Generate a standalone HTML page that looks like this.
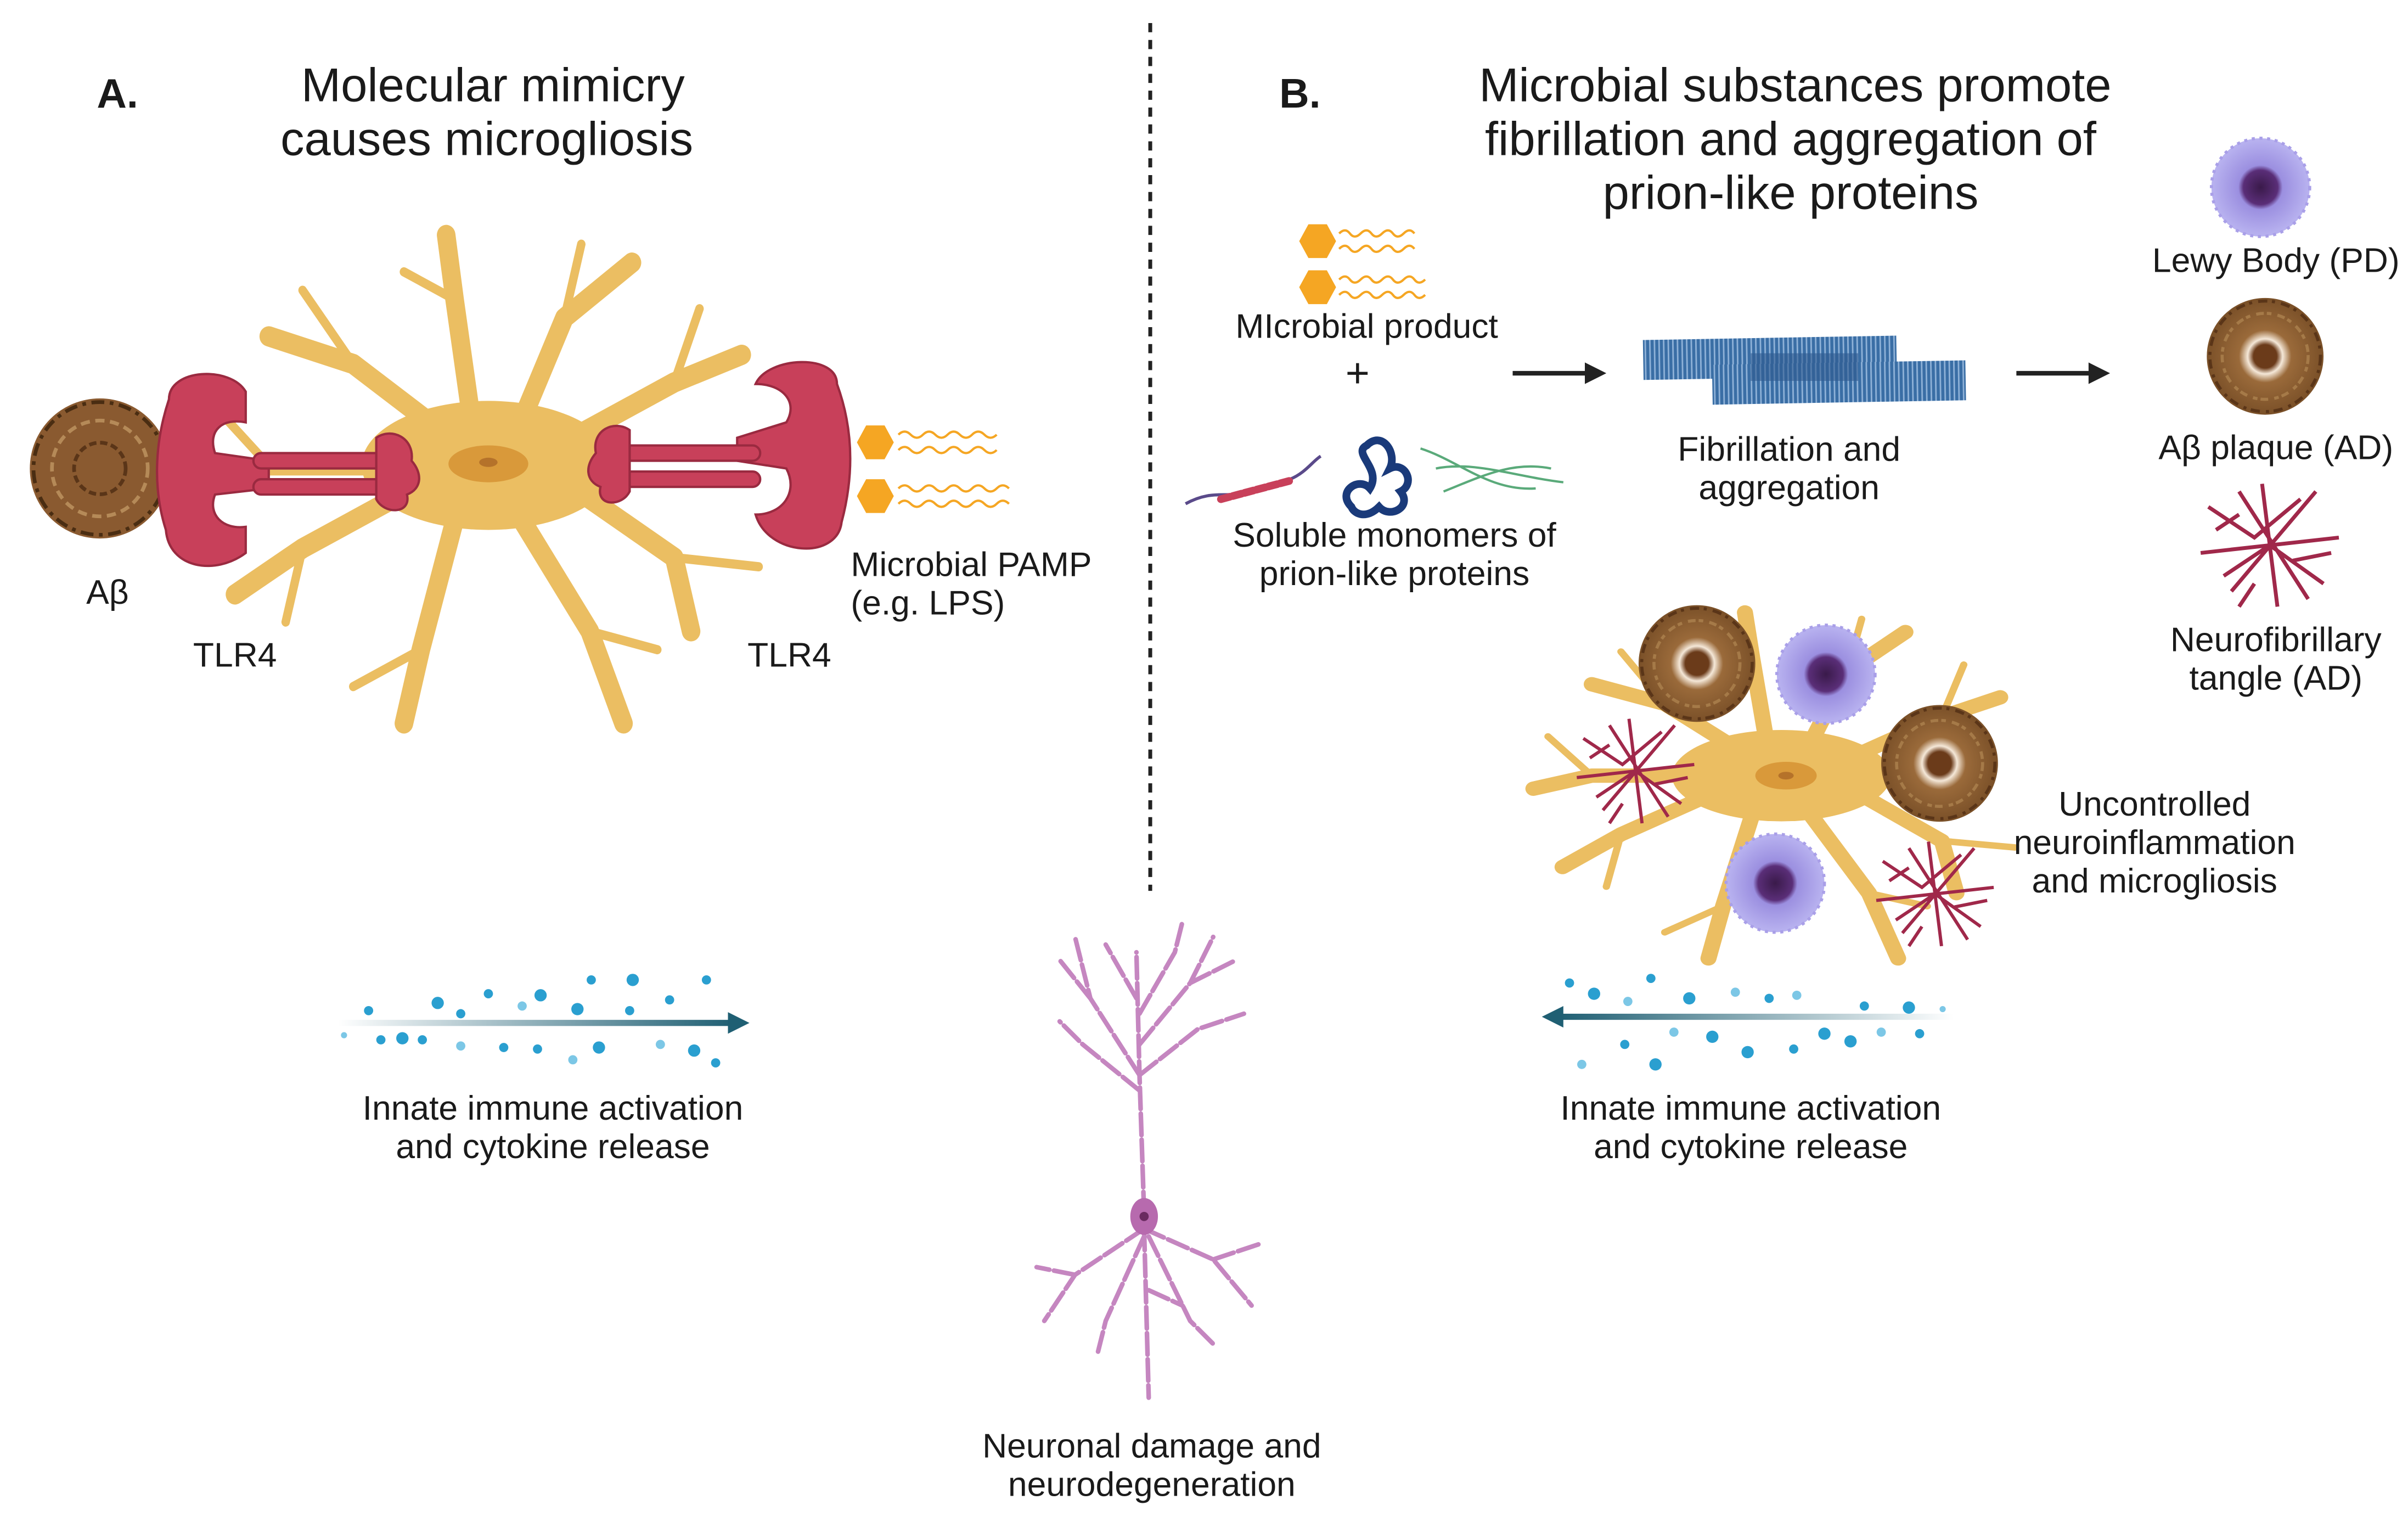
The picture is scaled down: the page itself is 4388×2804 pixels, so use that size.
<!DOCTYPE html>
<html><head><meta charset="utf-8"><style>
html,body{margin:0;padding:0;background:#fff;}
svg{display:block;}
text{font-family:"Liberation Sans",sans-serif;fill:#1a1a1a;}
.l{font-size:22.3px;text-anchor:middle;}
.t{font-size:31px;text-anchor:middle;}
</style></head><body>
<svg width="4388" height="2804" viewBox="0 0 1568 1002" xmlns="http://www.w3.org/2000/svg">
<defs>
<radialGradient id="lb"><stop offset="0" stop-color="#3a1a4a"/><stop offset="0.35" stop-color="#5a2e78"/><stop offset="0.45" stop-color="#9b8fe0"/><stop offset="1" stop-color="#b9b3f0"/></radialGradient>
<radialGradient id="pl"><stop offset="0" stop-color="#6b3b1a"/><stop offset="0.2" stop-color="#6b3b1a"/><stop offset="0.3" stop-color="#f5e8d8"/><stop offset="0.45" stop-color="#9a6a3a"/><stop offset="1" stop-color="#7a5028"/></radialGradient>
<linearGradient id="ar" gradientUnits="userSpaceOnUse" x1="220" y1="0" x2="478" y2="0"><stop offset="0" stop-color="#1f5f73" stop-opacity="0"/><stop offset="1" stop-color="#1f5f73"/></linearGradient>
<linearGradient id="ar2" gradientUnits="userSpaceOnUse" x1="1272" y1="0" x2="1015" y2="0"><stop offset="0" stop-color="#1f5f73" stop-opacity="0"/><stop offset="1" stop-color="#1f5f73"/></linearGradient>
<pattern id="hatch" width="3" height="10" patternUnits="userSpaceOnUse"><rect width="3" height="10" fill="#3a6ea5"/><rect width="1" height="10" fill="#8fb2d8"/></pattern>
<g id="hex"><polygon points="-12,0 -6,-11 6,-11 12,0 6,11 -6,11" fill="#f5a623"/></g>
<g id="lewy"><circle r="32" fill="url(#lb)"/><circle r="32" fill="none" stroke="#a99fe8" stroke-width="2" stroke-dasharray="2 3"/></g>
<g id="plq"><circle r="38" fill="url(#pl)"/><circle r="36" fill="none" stroke="#5a3518" stroke-width="2" stroke-dasharray="6 3 2 4"/><circle r="28" fill="none" stroke="#a57a48" stroke-width="2" stroke-dasharray="5 2 3 4"/></g>
<g id="tng" stroke="#a0284a" stroke-width="2.5" fill="none"><path d="M-40,-25 L-10,-5 L20,-30 M-30,20 L0,0 L35,25 M-5,-40 L5,40 M-45,5 L45,-5 M-20,-35 L25,35 M30,-35 L-25,30 M-35,-10 L-20,-20 M15,10 L40,5 M-10,25 L-20,40"/></g>
<g id="mic" stroke="#ebbe62" fill="none" stroke-linecap="round" stroke-linejoin="round">
<ellipse rx="75" ry="35" fill="#ebbe62" stroke="none"/>
<g stroke-width="11">
<path d="M-30,-20 L-80,-55 L-130,-70"/><path d="M-10,-25 L-20,-90 L-25,-125"/><path d="M20,-25 L45,-80 L85,-110"/><path d="M50,-15 L110,-45 L150,-60"/>
<path d="M55,15 L110,50 L120,90"/><path d="M20,30 L60,90 L80,140"/><path d="M-20,30 L-40,100 L-50,140"/><path d="M-50,15 L-110,45 L-150,70"/><path d="M-60,0 L-130,0 L-170,10"/>
</g>
<g stroke-width="5">
<path d="M-80,-55 L-110,-95"/><path d="M-20,-90 L-50,-105"/><path d="M45,-80 L55,-120"/><path d="M110,-45 L125,-85"/><path d="M110,50 L160,55"/><path d="M60,90 L100,100"/><path d="M-40,100 L-80,120"/><path d="M-110,45 L-120,85"/><path d="M-130,0 L-160,-30"/>
</g>
</g>
</defs>

<line x1="749" y1="15" x2="749" y2="580" stroke="#222" stroke-width="2.5" stroke-dasharray="6 5"/>

<text x="63" y="70" style="font-size:27px;font-weight:bold">A.</text>
<text class="t" x="321" y="66">Molecular mimicry</text>
<text class="t" x="317" y="101">causes microgliosis</text>
<text x="833" y="70" style="font-size:27px;font-weight:bold">B.</text>
<text class="t" x="1169" y="66">Microbial substances promote</text>
<text class="t" x="1166" y="101">fibrillation and aggregation of</text>
<text class="t" x="1166" y="136">prion-like proteins</text>

<g transform="translate(318,303) scale(1.1,1.2)"><use href="#mic"/></g>
<ellipse cx="318" cy="302" rx="26" ry="12" fill="#d9993a"/>
<ellipse cx="318" cy="301" rx="6" ry="3" fill="#b5722a"/>
<g transform="translate(65,305) scale(1.2)"><circle r="38" fill="#8a5a30"/><circle r="36" fill="none" stroke="#4a2d12" stroke-width="2" stroke-dasharray="7 3 2 3"/><circle r="26" fill="none" stroke="#b58a58" stroke-width="2" stroke-dasharray="5 3"/><circle r="14" fill="none" stroke="#5a3518" stroke-width="2" stroke-dasharray="4 2"/></g>
<g fill="#c8405a" stroke="#9a2a40" stroke-width="1.5">
<path d="M110,260 C110,240 150,238 160,255 L160,275 C145,272 135,280 140,295 L175,300 L175,318 L140,322 C135,335 145,345 160,343 L160,360 C140,375 110,370 108,345 C100,320 100,290 110,260 Z"/>
<rect x="165" y="295" width="90" height="10" rx="5"/>
<rect x="165" y="312" width="90" height="10" rx="5"/>
<path d="M245,285 C255,278 270,285 268,300 C275,308 275,318 265,322 C268,335 250,335 245,325 Z"/>
</g>
<g fill="#c8405a" stroke="#9a2a40" stroke-width="1.5">
<path d="M545,250 C545,230 500,232 492,250 C510,250 520,262 512,275 L480,285 L480,300 L512,305 C520,320 510,335 492,335 C500,362 545,365 548,340 C556,310 556,280 545,250 Z"/>
<rect x="405" y="290" width="90" height="10" rx="5"/>
<rect x="405" y="307" width="90" height="10" rx="5"/>
<path d="M410,280 C400,273 385,280 388,295 C381,303 381,313 391,317 C388,330 405,330 410,320 Z"/>
</g>
<use href="#hex" x="570" y="288"/><use href="#hex" x="570" y="323"/>
<g stroke="#f5a623" stroke-width="1.5" fill="none">
<path d="M585,283 q4,-4 8,0 t8,0 t8,0 t8,0 t8,0 t8,0 t8,0 t8,0"/>
<path d="M585,293 q4,-4 8,0 t8,0 t8,0 t8,0 t8,0 t8,0 t8,0 t8,0"/>
<path d="M585,318 q4,-4 8,0 t8,0 t8,0 t8,0 t8,0 t8,0 t8,0 t8,0 t8,0"/>
<path d="M585,328 q4,-4 8,0 t8,0 t8,0 t8,0 t8,0 t8,0 t8,0 t8,0 t8,0"/>
</g>
<text class="l" x="70" y="393">Aβ</text>
<text class="l" x="153" y="434">TLR4</text>
<text class="l" x="514" y="434">TLR4</text>
<text x="554" y="375" style="font-size:22.3px">Microbial PAMP</text>
<text x="554" y="400" style="font-size:22.3px">(e.g. LPS)</text>

<rect x="220" y="664" width="258" height="4" fill="url(#ar)"/>
<polygon points="474,659 488,666 474,673" fill="#1f5f73"/>
<g fill="#2a9fd0">
<circle cx="240" cy="658" r="3"/><circle cx="262" cy="676" r="4"/><circle cx="285" cy="653" r="4"/><circle cx="300" cy="660" r="3"/><circle cx="318" cy="647" r="3"/><circle cx="328" cy="682" r="3"/><circle cx="352" cy="648" r="4"/><circle cx="350" cy="683" r="3"/><circle cx="376" cy="657" r="4"/><circle cx="390" cy="682" r="4"/><circle cx="412" cy="638" r="4"/><circle cx="410" cy="658" r="3"/><circle cx="436" cy="651" r="3"/><circle cx="452" cy="684" r="4"/><circle cx="460" cy="638" r="3"/><circle cx="466" cy="692" r="3"/><circle cx="248" cy="677" r="3"/><circle cx="385" cy="638" r="3"/><circle cx="275" cy="677" r="3"/><circle cx="430" cy="680" r="3" fill="#7cc7e6"/><circle cx="224" cy="674" r="2" fill="#7cc7e6"/><circle cx="300" cy="681" r="3" fill="#7cc7e6"/><circle cx="373" cy="690" r="3" fill="#7cc7e6"/><circle cx="340" cy="655" r="3" fill="#7cc7e6"/>
</g>
<text class="l" x="360" y="729">Innate immune activation</text>
<text class="l" x="360" y="754">and cytokine release</text>

<g stroke="#c586c0" stroke-width="3" fill="none" stroke-linecap="round" stroke-dasharray="14 3">
<path d="M745,790 L742,700 L740,620"/>
<path d="M742,700 L710,650 L700,610 M710,650 L690,625 M742,680 L775,640 L790,610 M775,640 L805,625 M740,650 L720,615 M742,660 L765,620 L770,600 M742,700 L780,670 L810,660 M742,710 L705,680 L690,665"/>
<path d="M745,800 L748,910 M745,800 L700,830 L680,860 M700,830 L675,825 M745,800 L790,820 L815,850 M790,820 L820,810 M745,805 L720,860 L715,880 M748,805 L775,860 L790,875 M748,840 L770,850"/>
</g>
<ellipse cx="745" cy="792" rx="9" ry="12" fill="#b76aae"/>
<circle cx="745" cy="792" r="3" fill="#6a2a60"/>
<text class="l" x="750" y="949">Neuronal damage and</text>
<text class="l" x="750" y="974">neurodegeneration</text>

<use href="#hex" x="858" y="157"/><use href="#hex" x="858" y="187"/>
<g stroke="#f5a623" stroke-width="1.5" fill="none">
<path d="M872,152 q4,-4 7,0 t7,0 t7,0 t7,0 t7,0 t7,0 t7,0"/>
<path d="M872,162 q4,-4 7,0 t7,0 t7,0 t7,0 t7,0 t7,0 t7,0"/>
<path d="M872,182 q4,-4 7,0 t7,0 t7,0 t7,0 t7,0 t7,0 t7,0 t7,0"/>
<path d="M872,192 q4,-4 7,0 t7,0 t7,0 t7,0 t7,0 t7,0 t7,0 t7,0"/>
</g>
<text class="l" x="890" y="220">MIcrobial product</text>
<text x="884" y="252" style="font-size:27px;text-anchor:middle">+</text>
<path d="M772,328 C790,318 800,325 810,320 L840,312 C850,308 855,300 860,297" stroke="#5a4a8a" stroke-width="2" fill="none"/>
<line x1="795" y1="325" x2="840" y2="313" stroke="#c8405a" stroke-width="5" stroke-linecap="round" stroke-dasharray="6 2"/>
<path d="M880,330 C870,320 885,310 892,318 C900,305 880,295 890,290 C900,280 910,295 905,305 C915,300 922,315 912,320 C920,330 905,338 898,330 C890,338 882,335 880,330 Z" stroke="#1a3a7a" stroke-width="5" fill="none"/>
<path d="M925,292 C950,300 970,320 1000,318 M935,305 C960,300 985,310 1018,314 M940,320 C965,310 985,300 1010,305" stroke="#5aaa7a" stroke-width="1.5" fill="none"/>
<text class="l" x="908" y="356">Soluble monomers of</text>
<text class="l" x="908" y="381">prion-like proteins</text>
<line x1="985" y1="243" x2="1036" y2="243" stroke="#222" stroke-width="3"/>
<polygon points="1032,236 1046,243 1032,250" fill="#222"/>
<line x1="1313" y1="243" x2="1364" y2="243" stroke="#222" stroke-width="3"/>
<polygon points="1360,236 1374,243 1360,250" fill="#222"/>
<rect x="1070" y="220" width="165" height="26" fill="url(#hatch)" transform="rotate(-1 1150 233)"/>
<rect x="1115" y="236" width="165" height="26" fill="url(#hatch)" transform="rotate(-1 1200 249)"/>
<rect x="1140" y="230" width="70" height="18" fill="#2e5a90" opacity="0.6"/>
<text class="l" x="1165" y="300">Fibrillation and</text>
<text class="l" x="1165" y="325">aggregation</text>
<use href="#lewy" x="1472" y="122"/>
<text class="l" x="1482" y="177">Lewy Body (PD)</text>
<use href="#plq" x="1475" y="232"/>
<text class="l" x="1482" y="299">Aβ plaque (AD)</text>
<use href="#tng" x="1478" y="355"/>
<text class="l" x="1482" y="424">Neurofibrillary</text>
<text class="l" x="1482" y="449">tangle (AD)</text>

<g transform="translate(1160,505) scale(0.95,0.85)"><use href="#mic"/></g>
<ellipse cx="1163" cy="505" rx="20" ry="9" fill="#d9993a"/>
<ellipse cx="1163" cy="505" rx="5" ry="2.5" fill="#b5722a"/>
<use href="#plq" x="1105" y="432"/>
<use href="#lewy" x="1189" y="439"/>
<use href="#plq" x="1263" y="497"/>
<use href="#lewy" x="1156" y="575"/>
<g transform="translate(1065,502) scale(0.85)"><use href="#tng"/></g>
<g transform="translate(1260,582) scale(0.85)"><use href="#tng"/></g>
<text class="l" x="1403" y="531">Uncontrolled</text>
<text class="l" x="1403" y="556">neuroinflammation</text>
<text class="l" x="1403" y="581">and microgliosis</text>

<rect x="1015" y="660" width="257" height="4" fill="url(#ar2)"/>
<polygon points="1018,655 1004,662 1018,669" fill="#1f5f73"/>
<g fill="#2a9fd0">
<circle cx="1022" cy="640" r="3"/><circle cx="1038" cy="647" r="4"/><circle cx="1058" cy="680" r="3"/><circle cx="1075" cy="637" r="3"/><circle cx="1078" cy="693" r="4"/><circle cx="1100" cy="650" r="4"/><circle cx="1115" cy="675" r="4"/><circle cx="1138" cy="685" r="4"/><circle cx="1152" cy="650" r="3"/><circle cx="1168" cy="683" r="3"/><circle cx="1188" cy="673" r="4"/><circle cx="1205" cy="678" r="4"/><circle cx="1214" cy="655" r="3"/><circle cx="1243" cy="656" r="4"/><circle cx="1250" cy="673" r="3"/><circle cx="1090" cy="672" r="3" fill="#7cc7e6"/><circle cx="1130" cy="646" r="3" fill="#7cc7e6"/><circle cx="1225" cy="672" r="3" fill="#7cc7e6"/><circle cx="1265" cy="657" r="2" fill="#7cc7e6"/><circle cx="1060" cy="652" r="3" fill="#7cc7e6"/><circle cx="1030" cy="693" r="3" fill="#7cc7e6"/><circle cx="1170" cy="648" r="3" fill="#7cc7e6"/>
</g>
<text class="l" x="1140" y="729">Innate immune activation</text>
<text class="l" x="1140" y="754">and cytokine release</text>
</svg>
</body></html>
